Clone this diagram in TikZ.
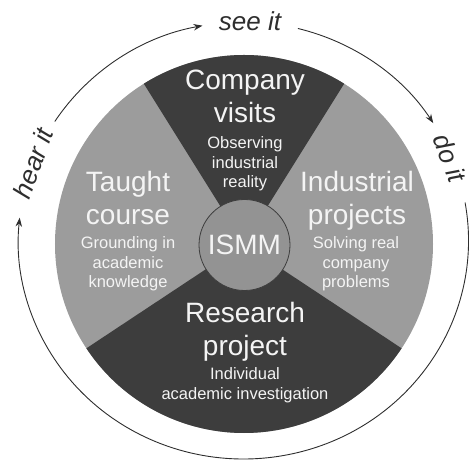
\documentclass[tikz,border=0pt]{standalone}
\usepackage{fontspec}
\setmainfont{Liberation Sans}
\usetikzlibrary{arrows.meta, positioning, calc}
\definecolor{segdark}{HTML}{3D3D3D}
\definecolor{seglight}{HTML}{9C9C9C}
\definecolor{hubgray}{HTML}{939393}
\definecolor{ringgray}{HTML}{2E2E2E}
\definecolor{txtlight}{HTML}{F4F4F4}
\tikzstyle{title}=[inner sep=0pt, align=center, text=txtlight, anchor=base, font=\fontsize{28}{33}\selectfont]
\tikzstyle{desc}=[inner sep=0pt, align=center, text=txtlight, anchor=base, font=\fontsize{16.5}{19.5}\selectfont]
\tikzstyle{cue}=[inner sep=0pt, text=ringgray, font=\fontsize{26}{30}\selectfont\itshape]
\tikzstyle{ring}=[draw=ringgray, line width=0.9pt]
\tikzstyle{hub}=[circle, inner sep=0pt, minimum size=91pt, fill=hubgray, draw=segdark, line width=0.8pt, text=txtlight, font=\fontsize{28}{33}\selectfont]
\tikzset{>={Stealth[length=9pt,width=6.5pt]}}

\begin{document}
\begin{tikzpicture}[x=1pt, y=1pt]
\useasboundingbox (-244,-226) rectangle (225,244);
% disc and the four segments
\fill[seglight] (0,0) circle[radius=189pt];
\fill[segdark] (0,0) -- (58:189pt) arc[start angle=58, end angle=122, radius=189pt] -- cycle;
\fill[segdark] (0,0) -- (213.5:189pt) arc[start angle=213.5, end angle=326.5, radius=189pt] -- cycle;
\node[hub] (ismm) at (0.5,-1) {ISMM};
%
\node[title] (visits) at (1,121) {Company\\visits};
\node[desc] (visitsdesc) at (1,56) {Observing\\industrial\\reality};
\node[title] (taught) at (-116,19) {Taught\\course};
\node[desc] (taughtdesc) at (-116,-44) {Grounding in\\academic\\knowledge};
\node[title] (industrial) at (113,19) {Industrial\\projects};
\node[desc] (industrialdesc) at (112,-44) {Solving real\\company\\problems};
\node[title] (research) at (1,-111) {Research\\project};
\node[desc] (researchdesc) at (1,-155) {Individual\\academic investigation};
%
% outer cycle
\coordinate (ec) at (-0.5,3.5);
\coordinate (hearstart) at ($(ec)+(147:225pt and 218.5pt)$);
\coordinate (seestart) at ($(ec)+(76:225pt and 218.5pt)$);
\coordinate (dostart) at ($(ec)+(10:225pt and 218.5pt)$);
\draw[ring, ->] (hearstart) arc[start angle=147, end angle=100.5, x radius=225pt, y radius=218.5pt];
\draw[ring, ->] (seestart) arc[start angle=76, end angle=32.5, x radius=225pt, y radius=218.5pt];
\draw[ring, ->] (dostart) arc[start angle=10, end angle=-186, x radius=225pt, y radius=218.5pt];
\node[cue] (seeit) at (6,223) {see it};
\node[cue, rotate=70] (hearit) at (-211,81) {hear it};
\node[cue, rotate=-68] (doit) at (206,86) {do it};
\end{tikzpicture}
\end{document}
